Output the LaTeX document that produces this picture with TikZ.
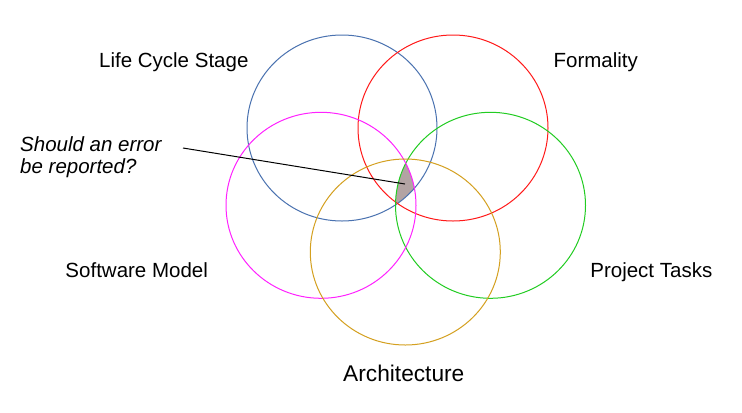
\documentclass[tikz,border=0pt]{standalone}
\usepackage{fontspec}
\setmainfont{Liberation Sans}
\definecolor{cblue}{HTML}{4A72B0}
\definecolor{cred}{HTML}{FF1A1A}
\definecolor{cgreen}{HTML}{22CC22}
\definecolor{cmag}{HTML}{FF22FF}
\definecolor{cgold}{HTML}{D4A020}
\definecolor{cshade}{HTML}{B3A3A3}
\begin{document}
\begin{tikzpicture}[x=1bp,y=-1bp,
  ring/.style={line width=1bp},
  lbl/.style={font=\fontsize{20.5bp}{24bp}\selectfont, anchor=base, inner sep=0pt},
  note/.style={font=\fontsize{20.5bp}{24bp}\selectfont\itshape, anchor=base west, inner sep=0pt}]
\useasboundingbox (0,0) rectangle (742,412);
\fill[white] (0,0) rectangle (742,412);
% shaded intersection
\begin{scope}
  \clip (342,128) ellipse [x radius=95bp, y radius=93bp];
  \clip (453,128) ellipse [x radius=95bp, y radius=93bp];
  \clip (490.5,205.3) ellipse [x radius=95bp, y radius=93bp];
  \clip (321,205.3) ellipse [x radius=95bp, y radius=93bp];
  \fill[cshade] (405.3,252) ellipse [x radius=95bp, y radius=93bp];
\end{scope}
\draw[ring, cblue] (342,128) ellipse [x radius=95bp, y radius=93bp];
\draw[ring, cred] (453,128) ellipse [x radius=95bp, y radius=93bp];
\draw[ring, cgreen] (490.5,205.3) ellipse [x radius=95bp, y radius=93bp];
\draw[ring, cmag] (321,205.3) ellipse [x radius=95bp, y radius=93bp];
\draw[ring, cgold] (405.3,252) ellipse [x radius=95bp, y radius=93bp];
% labels
\node[lbl] (lcs) at (173.8,67.3) {Life Cycle Stage};
\node[lbl] (form) at (595.8,67.3) {Formality};
\node[lbl] (sm) at (136.7,277.7) {Software Model};
\node[lbl] (pt) at (651.3,277.3) {Project Tasks};
\node[lbl, font=\fontsize{22.7bp}{26bp}\selectfont] (arch) at (403.8,381) {Architecture};
\node[note] (q1) at (20,151.7) {Should an error};
\node[note] (q2) at (20,173.3) {be reported?};
% pointer
\coordinate (ps) at (183,148);
\coordinate (pe) at (405,184);
\draw[line width=1bp, black] (ps) -- (pe);
\end{tikzpicture}
\end{document}
